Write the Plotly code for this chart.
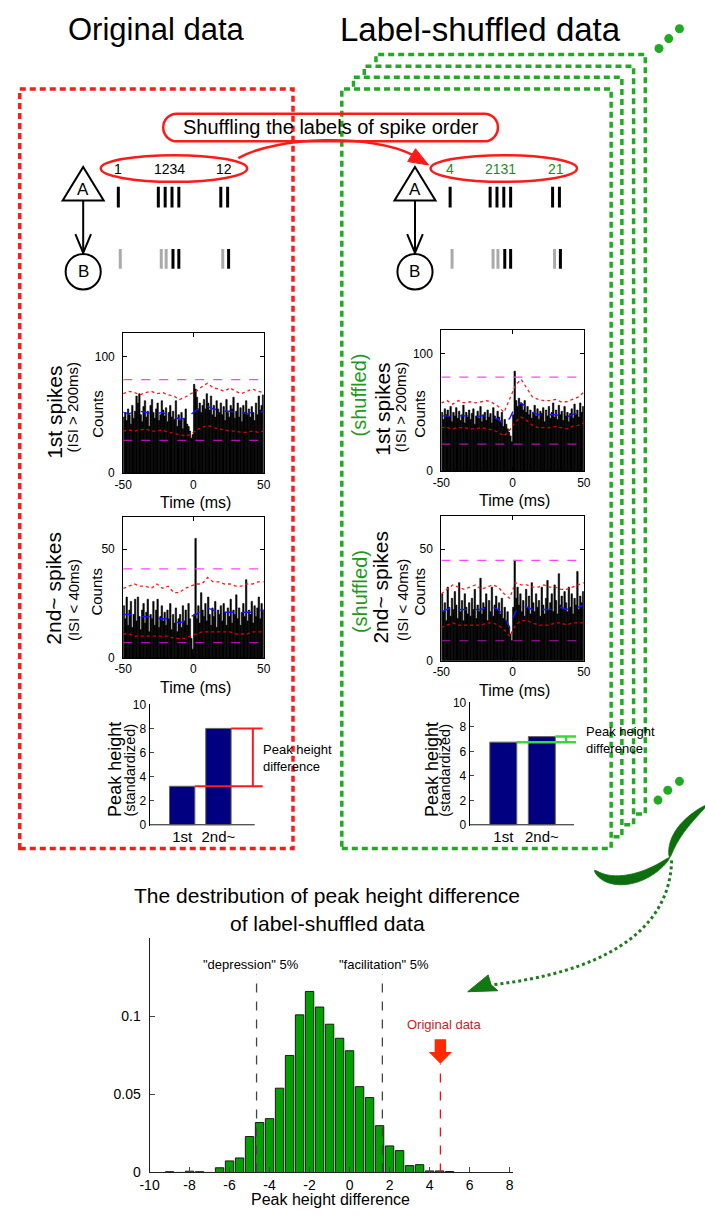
import numpy as np
import plotly.graph_objects as go

W, H = 705, 1218
FONT = "Liberation Sans"

# ---------------- data ----------------
psth_bins = [b + 0.5 for b in range(-50, 50)]          # 1-ms bin centres
curve_t = list(range(-50, 51, 4))                        # time points of the band curves
psth_xticks = [-50, 0, 50]
psth_xticktext = ["-50", "0", "50"]

orig1_counts = [48, 52, 45, 55, 50, 42, 58, 47, 53, 66,
                60, 68, 50, 44, 57, 62, 48, 53, 40, 58,
                63, 52, 47, 55, 60, 45, 50, 62, 54, 49,
                56, 44, 52, 58, 48, 53, 46, 62, 40, 50,
                45, 52, 38, 47, 55, 42, 40, 36, 30, 33,
                76, 72, 65, 55, 60, 52, 58, 63, 55, 68,
                60, 54, 66, 50, 58, 48, 62, 55, 52, 60,
                50, 57, 45, 63, 52, 48, 58, 55, 65, 47,
                53, 60, 48, 56, 44, 58, 52, 62, 50, 55,
                48, 57, 52, 45, 60, 50, 66, 54, 58, 67]
orig1_upper = [68, 70, 69, 67, 69, 70, 68, 69, 67, 66, 63, 65, 68, 70, 74, 77, 73, 72, 70, 73, 70, 68, 70, 72, 70, 69]
orig1_mean = [52, 51, 52, 53, 52, 51, 51, 52, 50, 49, 46, 47, 50, 54, 56, 57, 55, 54, 53, 53, 52, 52, 51, 52, 52, 53]
orig1_lower = [36, 37, 36, 37, 38, 36, 36, 37, 35, 34, 33, 32, 33, 37, 39, 41, 39, 38, 37, 36, 36, 35, 35, 36, 35, 36]
orig1_hi, orig1_lo = 80, 28

orig2_counts = [24, 18, 28, 15, 22, 26, 14, 20, 27, 17,
                28, 19, 13, 22, 25, 16, 21, 27, 12, 20,
                18, 26, 15, 22, 27, 14, 19, 24, 17, 21,
                15, 22, 18, 25, 13, 20, 16, 23, 12, 18,
                20, 14, 24, 17, 22, 15, 25, 18, 9, 4,
                20, 55, 18, 24, 16, 30, 22, 19, 25, 17,
                28, 20, 15, 23, 19, 26, 14, 22, 20, 24,
                17, 25, 21, 15, 23, 19, 27, 16, 22, 20,
                29, 18, 23, 15, 21, 25, 19, 36, 17, 22,
                20, 26, 16, 24, 19, 23, 28, 18, 25, 22]
orig2_upper = [32, 33, 34, 33, 33, 32, 34, 32, 33, 30, 30, 32, 33, 34, 34, 37, 35, 35, 34, 34, 33, 33, 34, 34, 35, 35]
orig2_mean = [20, 20, 20, 19, 19, 19, 18, 18, 18, 17, 16, 17, 19, 20, 22, 23, 22, 21, 21, 21, 21, 21, 21, 21, 22, 22]
orig2_lower = [11, 11, 10, 10, 10, 10, 10, 10, 10, 9, 9, 9, 10, 11, 12, 12, 12, 12, 12, 12, 11, 11, 11, 12, 12, 12]
orig2_hi, orig2_lo = 41, 7

shuf1_counts = [50, 44, 53, 48, 52, 46, 55, 42, 50, 47,
                54, 45, 51, 43, 48, 56, 41, 50, 46, 52,
                44, 49, 53, 40, 47, 51, 45, 55, 42, 48,
                50, 43, 52, 46, 49, 41, 54, 47, 44, 51,
                46, 42, 50, 38, 44, 40, 36, 33, 30, 25,
                48, 85, 60, 55, 62, 58, 57, 52, 60, 50,
                55, 48, 52, 45, 50, 56, 47, 53, 44, 51,
                49, 54, 42, 52, 47, 55, 45, 50, 58, 46,
                52, 44, 56, 48, 51, 43, 55, 47, 50, 42,
                49, 53, 45, 57, 48, 52, 46, 58, 50, 55]
shuf1_upper = [58, 60, 57, 60, 58, 59, 58, 59, 60, 58, 55, 50, 62, 73, 78, 70, 63, 61, 60, 60, 61, 59, 59, 61, 63, 67]
shuf1_mean = [47, 47, 46, 47, 47, 47, 46, 47, 47, 46, 44, 40, 45, 55, 58, 54, 50, 48, 48, 48, 48, 47, 46, 48, 50, 52]
shuf1_lower = [37, 37, 36, 37, 37, 36, 36, 37, 36, 35, 33, 30, 35, 42, 46, 43, 39, 37, 37, 37, 38, 37, 36, 38, 39, 41]
shuf1_hi, shuf1_lo = 80, 23

shuf2_counts = [30, 22, 26, 18, 33, 24, 20, 28, 23, 31,
                25, 19, 35, 22, 27, 18, 30, 24, 21, 26,
                20, 28, 23, 32, 19, 25, 22, 37, 21, 26,
                24, 30, 18, 27, 22, 33, 20, 25, 29, 23,
                26, 21, 28, 19, 24, 18, 22, 15, 12, 9,
                24, 45, 28, 33, 25, 30, 22, 27, 20, 32,
                24, 29, 21, 35, 26, 22, 30, 24, 27, 20,
                33, 25, 21, 28, 36, 23, 26, 30, 22, 34,
                27, 21, 39, 25, 29, 23, 31, 26, 22, 33,
                24, 30, 21, 28, 25, 40, 23, 29, 26, 31]
shuf2_upper = [30, 32, 34, 33, 32, 33, 34, 32, 33, 34, 33, 30, 28, 35, 34, 34, 33, 33, 34, 33, 33, 32, 32, 33, 34, 35]
shuf2_mean = [22, 23, 24, 23, 23, 23, 23, 23, 24, 24, 23, 20, 15, 22, 24, 24, 23, 23, 23, 23, 23, 24, 23, 24, 24, 25]
shuf2_lower = [15, 16, 17, 16, 16, 16, 16, 16, 17, 17, 16, 14, 11, 16, 18, 18, 17, 16, 16, 16, 17, 17, 16, 17, 17, 17]
shuf2_hi, shuf2_lo = 45, 9

bar_cats = [1, 2]
bar_labels = ["1st", "2nd~"]
peak_orig = [3.2, 8.0]
peak_shuf = [6.75, 7.2]
bar_yticks = [0, 2, 4, 6, 8, 10]

hist_centers = [c / 2 for c in range(-18, 11)]
hist_freq = [0.0005, 0, 0.0008, 0.0005, 0, 0.003, 0.0074, 0.0093, 0.023, 0.032,
             0.0345, 0.054, 0.075, 0.101, 0.116, 0.106, 0.095, 0.086, 0.078, 0.055,
             0.048, 0.030, 0.017, 0.014, 0.0044, 0.005, 0.001, 0.001, 0.0006]
hist_xticks = [-10, -8, -6, -4, -2, 0, 2, 4, 6, 8]
hist_yticks = [0, 0.05, 0.1]
hist_ytext = ["0", "0.05", "0.1"]
depression_5 = -4.65
facilitation_5 = 1.64
orig_difference = 4.54

spike_t_A = [0, 41, 48, 55, 62, 105, 112]
spike_t_B = [2, 44, 49, 56, 62, 107, 113]
spike_B_first = [True, True, True, False, False, True, False]
labels_orig = ["1", "1234", "12"]
labels_shuf = ["4", "2131", "21"]

# ---------------- helpers ----------------
def X(px):
    return px / W

def Y(py):
    return 1 - py / H

def P(x, y):
    return f"{x / W:.5f},{1 - y / H:.5f}"

def poly(points, close=True):
    s = "M " + " L ".join(P(x, y) for x, y in points)
    return s + (" Z" if close else "")

RED = "#ff1a1a"
GBOX = "#22aa22"
GTXT = "#1e8a1e"
DGREEN = "#0d6e0d"

fig = go.Figure()
layout = dict(width=W, height=H, margin=dict(l=0, r=0, t=0, b=0),
              paper_bgcolor="white", plot_bgcolor="white", showlegend=False,
              hovermode=False, font=dict(family=FONT, color="black"))
shapes = []
anns = []


def txt(s, x, y, size, color="black", angle=0, xanchor="center", yanchor="middle", align="center"):
    anns.append(dict(text=s, x=X(x), y=Y(y), xref="paper", yref="paper", showarrow=False,
                     font=dict(family=FONT, size=size, color=color), textangle=angle,
                     xanchor=xanchor, yanchor=yanchor, align=align))


def axname(k):
    return ("x" if k == 1 else f"x{k}"), ("y" if k == 1 else f"y{k}")


def add_psth(k, dom, counts, upper, mean, lower, hi, lo, ymax, ytick):
    xa, ya = axname(k)
    fig.add_trace(go.Bar(x=psth_bins, y=counts, width=1.0,
                         marker=dict(color="black", line=dict(color="black", width=0.6)),
                         xaxis=xa, yaxis=ya))
    fig.add_trace(go.Scatter(x=curve_t, y=upper, mode="lines", line=dict(color=RED, width=1.3, dash="dot"),
                             xaxis=xa, yaxis=ya))
    fig.add_trace(go.Scatter(x=curve_t, y=mean, mode="lines", line=dict(color="#1515ff", width=1.4, dash="dash"),
                             xaxis=xa, yaxis=ya))
    fig.add_trace(go.Scatter(x=curve_t, y=lower, mode="lines", line=dict(color="#e00000", width=1.3, dash="dot"),
                             xaxis=xa, yaxis=ya))
    fig.add_trace(go.Scatter(x=[-50, 50], y=[hi, hi], mode="lines", line=dict(color="#ff44ff", width=1.2, dash="dash"),
                             xaxis=xa, yaxis=ya))
    fig.add_trace(go.Scatter(x=[-50, 50], y=[lo, lo], mode="lines", line=dict(color="#b010b0", width=1.2, dash="dash"),
                             xaxis=xa, yaxis=ya))
    x0, x1, y0, y1 = dom
    common = dict(showline=True, linecolor="black", linewidth=1, mirror="ticks", ticks="inside", ticklen=4,
                  tickcolor="black", showgrid=False, zeroline=False,
                  tickfont=dict(family=FONT, size=12, color="black"))
    layout["xaxis" + ("" if k == 1 else str(k))] = dict(domain=[X(x0), X(x1)], range=[-50, 50], tickvals=psth_xticks,
                                                       ticktext=psth_xticktext, anchor=ya, **common)
    layout["yaxis" + ("" if k == 1 else str(k))] = dict(domain=[Y(y1), Y(y0)], range=[0, ymax], tickvals=[0, ytick],
                                                       anchor=xa, ticklabelstandoff=5, **common)


add_psth(1, (116, 260, 330, 472), orig1_counts, orig1_upper, orig1_mean, orig1_lower, orig1_hi, orig1_lo, 120, 100)
add_psth(2, (116, 260, 516, 659), orig2_counts, orig2_upper, orig2_mean, orig2_lower, orig2_hi, orig2_lo, 65, 50)
add_psth(3, (442, 588, 327, 470), shuf1_counts, shuf1_upper, shuf1_mean, shuf1_lower, shuf1_hi, shuf1_lo, 120, 100)
add_psth(4, (442, 588, 515, 662), shuf2_counts, shuf2_upper, shuf2_mean, shuf2_lower, shuf2_hi, shuf2_lo, 65, 50)


def add_bars(k, dom, xr, spine_end, peaks, beam_end, beam_x, beam_color, beam_w):
    xa, ya = axname(k)
    fig.add_trace(go.Bar(x=bar_cats, y=peaks, width=0.7,
                         marker=dict(color="#000080", line=dict(color="#666666", width=1)), xaxis=xa, yaxis=ya))
    fig.add_trace(go.Scatter(x=[xr[0], spine_end], y=[0, 0], mode="lines", line=dict(color="#555555", width=1.5),
                             xaxis=xa, yaxis=ya))
    fig.add_trace(go.Scatter(x=[bar_cats[0] + 0.35, beam_end], y=[peaks[0], peaks[0]], mode="lines",
                             line=dict(color=beam_color, width=beam_w), xaxis=xa, yaxis=ya))
    fig.add_trace(go.Scatter(x=[bar_cats[1] + 0.35, beam_end], y=[peaks[1], peaks[1]], mode="lines",
                             line=dict(color=beam_color, width=beam_w), xaxis=xa, yaxis=ya))
    fig.add_trace(go.Scatter(x=[beam_x, beam_x], y=[peaks[0], peaks[1]], mode="lines",
                             line=dict(color=beam_color, width=beam_w), xaxis=xa, yaxis=ya))
    x0, x1, y0, y1 = dom
    layout["xaxis" + str(k)] = dict(domain=[X(x0), X(x1)], range=xr, tickvals=bar_cats, ticktext=bar_labels,
                                    showline=False, ticks="", showgrid=False, zeroline=False, anchor=ya,
                                    tickfont=dict(family=FONT, size=15, color="black"))
    layout["yaxis" + str(k)] = dict(domain=[Y(y1), Y(y0)], range=[-0.08, 10], tickvals=bar_yticks,
                                    showline=True, linecolor="black", linewidth=1, ticks="inside", ticklen=4,
                                    showgrid=False, zeroline=False, anchor=xa,
                                    tickfont=dict(family=FONT, size=12, color="black"))


add_bars(5, (143, 260, 706, 829), [0.1, 3.25], 3.0, peak_orig, 3.22, 2.95, "#ff1a1a", 2)
add_bars(6, (471, 582.5, 704, 829), [0.127, 2.95], 2.836, peak_shuf, 2.886, 2.63, "#33dd33", 2.5)

# bottom distribution
fig.add_trace(go.Bar(x=hist_centers, y=hist_freq, width=0.42,
                     marker=dict(color="#00a000", line=dict(color="#1a1a1a", width=1)), xaxis="x7", yaxis="y7"))
top_dash = 0.127
fig.add_trace(go.Scatter(x=[depression_5, depression_5], y=[0, top_dash], mode="lines",
                         line=dict(color="#444444", width=1.3, dash="dash"), xaxis="x7", yaxis="y7"))
fig.add_trace(go.Scatter(x=[facilitation_5, facilitation_5], y=[0, top_dash], mode="lines",
                         line=dict(color="#444444", width=1.3, dash="dash"), xaxis="x7", yaxis="y7"))
fig.add_trace(go.Scatter(x=[orig_difference, orig_difference], y=[0, 0.0696], mode="lines",
                         line=dict(color="#ff0000", width=1.2, dash="dash"), xaxis="x7", yaxis="y7"))
layout["xaxis7"] = dict(domain=[X(143), X(515)], range=[-10, 8.15], tickvals=hist_xticks,
                        ticktext=[str(v) for v in hist_xticks], showline=True, linecolor="#222222", linewidth=1,
                        ticks="inside", ticklen=5, showgrid=False, zeroline=False, anchor="y7",
                        tickfont=dict(family=FONT, size=14, color="black"))
layout["yaxis7"] = dict(domain=[Y(1180), Y(943)], range=[0, 0.15], tickvals=hist_yticks, ticktext=hist_ytext,
                        showline=True, linecolor="#222222", linewidth=1, ticks="inside", ticklen=5,
                        showgrid=False, zeroline=False, anchor="x7", ticklabelstandoff=5,
                        tickfont=dict(family=FONT, size=14, color="black"))

# red block arrow "Original data"
ox = orig_difference
shapes.append(dict(type="path", xref="x7", yref="y7", layer="above",
                   path=f"M {ox-0.285},0.0854 L {ox+0.285},0.0854 L {ox+0.285},0.0772 L {ox+0.585},0.0772 "
                        f"L {ox},0.0696 L {ox-0.585},0.0772 L {ox-0.285},0.0772 Z",
                   fillcolor="#ff2a00", line=dict(width=0)))
for s, xv, yv, col in [('"depression" 5%', -4.93, 0.1335, "black"),
                       ('"facilitation" 5%', 1.71, 0.1335, "black"),
                       ("Original data", 4.73, 0.095, "#c41e1e")]:
    anns.append(dict(text=s, x=xv, y=yv, xref="x7", yref="y7", showarrow=False,
                     font=dict(family=FONT, size=13, color=col)))

# ---------------- frames ----------------
dash_box = "6px,4px"
for (x0, y0, x1, y1) in [(375, 48, 651, 817), (363, 60, 639, 828), (352, 71, 627, 840), (340, 83, 616, 852)]:
    shapes.append(dict(type="rect", xref="paper", yref="paper", x0=X(x0), x1=X(x1), y0=Y(y1), y1=Y(y0),
                       line=dict(color=GBOX, width=3.5, dash=dash_box), fillcolor="white", layer="below"))
shapes.append(dict(type="rect", xref="paper", yref="paper", x0=X(10), x1=X(290), y0=Y(852), y1=Y(83),
                   line=dict(color=RED, width=3.5, dash=dash_box), fillcolor="rgba(0,0,0,0)", layer="below"))

# ellipsis dots
for (cx, cy) in [(665, 42), (675, 32), (686, 22), (664, 803), (674, 793), (686, 784)]:
    r = 4.6
    shapes.append(dict(type="circle", xref="paper", yref="paper", x0=X(cx - r), x1=X(cx + r), y0=Y(cy + r),
                       y1=Y(cy - r), fillcolor=GBOX, line=dict(width=0), layer="above"))


# curly brace: two tapered arms meeting at a pointed cusp
def bez(p0, p1, p2, p3, n=40):
    tt = np.linspace(0, 1, n)[:, None]
    p0, p1, p2, p3 = map(np.array, (p0, p1, p2, p3))
    pts = (1 - tt) ** 3 * p0 + 3 * (1 - tt) ** 2 * tt * p1 + 3 * (1 - tt) * tt ** 2 * p2 + tt ** 3 * p3
    der = 3 * (1 - tt) ** 2 * (p1 - p0) + 6 * (1 - tt) * tt * (p2 - p1) + 3 * tt ** 2 * (p3 - p2)
    nrm = np.stack([-der[:, 1], der[:, 0]], axis=1)
    nrm = nrm / np.linalg.norm(nrm, axis=1, keepdims=True)
    return pts, nrm, tt[:, 0]


def arm(p0, p1, p2, p3, tmax):
    pts, nrm, tt = bez(p0, p1, p2, p3)
    th = tmax * np.sin(np.pi * np.clip(tt, 0, 1)) ** 0.6
    a = pts + nrm * th[:, None] / 2
    b = pts - nrm * th[:, None] / 2
    return [tuple(p) for p in a] + [tuple(p) for p in b[::-1]]


cusp = (676, 861)
shapes.append(dict(type="path", xref="paper", yref="paper", layer="above",
                   path=poly(arm((599, 874), (614, 892), (652, 885), cusp, 9.5)),
                   fillcolor=DGREEN, line=dict(color=DGREEN, width=0.8)))
shapes.append(dict(type="path", xref="paper", yref="paper", layer="above",
                   path=poly(arm(cusp, (678, 842), (690, 826), (714, 808), 8)),
                   fillcolor=DGREEN, line=dict(color=DGREEN, width=0.8)))

# dotted connector + arrow head
shapes.append(dict(type="path", xref="paper", yref="paper", layer="above",
                   path=f"M {P(678, 864)} C {P(676, 940)} {P(600, 978)} {P(494, 990)}",
                   line=dict(color="#1d7d1d", width=3, dash="dot")))
shapes.append(dict(type="path", xref="paper", yref="paper", layer="above",
                   path=poly([(469, 997), (490, 980), (493, 990), (500, 996)]),
                   fillcolor="#127812", line=dict(color="#127812", width=1)))

# ---------------- diagram ----------------
def rrect(x0, y0, x1, y1, r):
    k = 0.5523 * r
    return (f"M {P(x0 + r, y0)} L {P(x1 - r, y0)} C {P(x1 - r + k, y0)} {P(x1, y0 + r - k)} {P(x1, y0 + r)} "
            f"L {P(x1, y1 - r)} C {P(x1, y1 - r + k)} {P(x1 - r + k, y1)} {P(x1 - r, y1)} "
            f"L {P(x0 + r, y1)} C {P(x0 + r - k, y1)} {P(x0, y1 - r + k)} {P(x0, y1 - r)} "
            f"L {P(x0, y0 + r)} C {P(x0, y0 + r - k)} {P(x0 + r - k, y0)} {P(x0 + r, y0)} Z")

shapes.append(dict(type="path", xref="paper", yref="paper", path=rrect(157, 108, 500, 136, 14),
                   line=dict(color=RED, width=2.5), layer="above"))
txt("Shuffling the labels of spike order", 329, 122, 20)

for cx in (168, 506):
    shapes.append(dict(type="circle", xref="paper", yref="paper", x0=X(cx - 75), x1=X(cx + 75), y0=Y(177),
                       y1=Y(150), line=dict(color=RED, width=2.5), layer="above"))

# curved red arrow
shapes.append(dict(type="path", xref="paper", yref="paper", layer="above",
                   path=f"M {P(234, 153)} C {P(272, 131)} {P(372, 128)} {P(413, 150)}",
                   line=dict(color=RED, width=2.5)))
shapes.append(dict(type="path", xref="paper", yref="paper", layer="above",
                   path=poly([(429, 160), (407.5, 156.5), (415.5, 143.5)]),
                   fillcolor=RED, line=dict(color=RED, width=1)))

label_x = [111, 163, 219]
for i in range(3):
    txt(labels_orig[i], label_x[i], 164, 14)
    txt(labels_shuf[i], label_x[i] + 340, 164, 14, color=GTXT)

for dx in (0, 340):
    cx = 75 + dx
    shapes.append(dict(type="path", xref="paper", yref="paper", layer="above",
                       path=poly([(cx, 162), (cx + 21, 196), (cx - 21, 196)]),
                       line=dict(color="black", width=2), fillcolor="white"))
    txt("A", cx, 185, 17)
    shapes.append(dict(type="circle", xref="paper", yref="paper", x0=X(cx - 18), x1=X(cx + 18), y0=Y(286),
                       y1=Y(250), line=dict(color="black", width=2), layer="above"))
    txt("B", cx, 268, 17)
    shapes.append(dict(type="line", xref="paper", yref="paper", x0=X(cx), x1=X(cx), y0=Y(196), y1=Y(248),
                       line=dict(color="black", width=2), layer="above"))
    shapes.append(dict(type="path", xref="paper", yref="paper", layer="above",
                       path=poly([(cx - 8, 230), (cx, 249), (cx + 8, 230)], close=False),
                       line=dict(color="black", width=2)))
    for tA in spike_t_A:
        xA = 111 + dx + tA
        shapes.append(dict(type="line", xref="paper", yref="paper", x0=X(xA), x1=X(xA), y0=Y(203), y1=Y(182),
                           line=dict(color="black", width=3), layer="above"))
    for tB, first in zip(spike_t_B, spike_B_first):
        xB = 111 + dx + tB
        shapes.append(dict(type="line", xref="paper", yref="paper", x0=X(xB), x1=X(xB), y0=Y(265), y1=Y(245),
                           line=dict(color="#aaaaaa" if first else "black", width=3), layer="above"))

# ---------------- text ----------------
txt("Original data", 150, 23, 31)
txt("Label-shuffled data", 482, 23, 33)

# left PSTH labels
txt("1st spikes", 46, 410, 21, angle=-90)
txt("(ISI > 200ms)", 64, 405, 15, angle=-90)
txt("Counts", 90, 412, 15, angle=-90)
txt("Time (ms)", 190, 502, 16)
txt("2nd~ spikes", 45, 588, 21, angle=-90)
txt("(ISI < 40ms)", 65, 600, 15, angle=-90)
txt("Counts", 89, 592, 15, angle=-90)
txt("Time (ms)", 190, 689, 16)
# right PSTH labels
txt("(shuffled)", 358, 393, 20, color="#1f9a1f", angle=-90)
txt("1st spikes", 382, 407, 21, angle=-90)
txt("(ISI > 200ms)", 400, 405, 15, angle=-90)
txt("Counts", 420, 412, 15, angle=-90)
txt("Time (ms)", 517, 500, 16)
txt("(shuffled)", 358, 592, 20, color="#1f9a1f", angle=-90)
txt("2nd~ spikes", 380, 587, 21, angle=-90)
txt("(ISI < 40ms)", 402, 600, 15, angle=-90)
txt("Counts", 420, 592, 15, angle=-90)
txt("Time (ms)", 517, 692, 16)

# bar chart labels
txt("Peak height", 108, 772, 18, angle=-90)
txt("(standardized)", 123, 773, 14.5, angle=-90)
txt("Peak height<br>difference", 257, 760, 13, xanchor="left", align="left")
txt("Peak height", 433, 772, 18, angle=-90)
txt("(standardized)", 446, 773, 14.5, angle=-90)
txt("Peak height<br>difference", 588, 742, 13, xanchor="left", align="left")

# distribution title + x label
txt("The destribution of peak height difference", 325, 900, 21)
txt("of label-shuffled data", 325, 928, 21)
txt("Peak height difference", 328, 1207, 16)

layout["shapes"] = shapes
layout["annotations"] = anns
fig.update_layout(**layout)
fig.write_html("out.html")
